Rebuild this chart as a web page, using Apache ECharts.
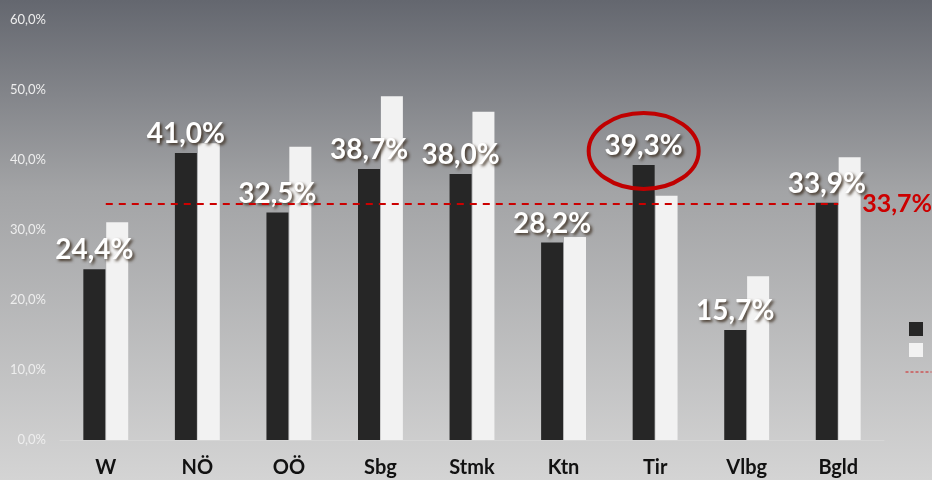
<!DOCTYPE html>
<html>
<head>
<meta charset="utf-8">
<script src="https://cdn.jsdelivr.net/npm/echarts@6/dist/echarts.min.js"></script>
<style>
  html, body { margin: 0; padding: 0; }
  #chart { width: 932px; height: 480px; }
</style>
</head>
<body>
<div id="chart"></div>
<script>
// Bundesländer
const categories = ['W', 'NÖ', 'OÖ', 'Sbg', 'Stmk', 'Ktn', 'Tir', 'Vlbg', 'Bgld']
// dark bars (labelled)
const darkValues = [24.4, 41.0, 32.5, 38.7, 38.0, 28.2, 39.3, 15.7, 33.9]
// white bars
const lightValues = [31.1, 42.4, 41.9, 49.1, 46.9, 29.0, 34.9, 23.4, 40.4]
// Österreich-Schnitt
const averageValue = 33.7
const averageLine = categories.map(() => averageValue)
const highlightIndex = 6 // Tir

const fmt = v => v.toFixed(1).replace('.', ',') + '%'

const chart = echarts.init(document.getElementById('chart'))

chart.setOption({
  animation: false,
  backgroundColor: {
    type: 'linear', x: 0, y: 0, x2: 0, y2: 1,
    colorStops: [
      { offset: 0, color: '#64676f' },
      { offset: 0.4, color: '#a3a4a6' },
      { offset: 1, color: '#d4d4d4' }
    ]
  },
  grid: { left: 60, right: 48, top: 20, bottom: 40 },
  // legend texts are cut off at the right edge in the original
  legend: [
    {
      orient: 'vertical',
      left: 904,
      top: 317,
      itemWidth: 14,
      itemHeight: 14,
      itemGap: 7,
      formatter: () => ' ',
      textStyle: { color: 'rgba(0,0,0,0)', fontSize: 10 },
      data: [
        { name: 'dunkel', icon: 'rect' },
        { name: 'hell', icon: 'rect' }
      ]
    },
    {
      left: 900,
      top: 362,
      itemWidth: 26,
      itemHeight: 10,
      formatter: () => ' ',
      textStyle: { color: 'rgba(0,0,0,0)', fontSize: 10 },
      data: [
        {
          name: 'Schnitt',
          itemStyle: { opacity: 0 },
          lineStyle: { width: 1, type: [3, 2], color: '#d02020' }
        }
      ]
    }
  ],
  xAxis: {
    type: 'category',
    data: categories,
    axisTick: { show: false },
    axisLine: { lineStyle: { color: '#d6d6d6', width: 1 } },
    axisLabel: {
      margin: 18,
      color: '#111',
      fontFamily: 'Lato',
      fontWeight: 'bold',
      fontSize: 20
    }
  },
  yAxis: {
    type: 'value',
    min: 0,
    max: 60,
    interval: 10,
    splitLine: { show: false },
    axisLine: { show: false },
    axisTick: { show: false },
    axisLabel: {
      margin: 14,
      color: '#eeeeee',
      fontFamily: 'Lato',
      fontSize: 13,
      formatter: v => v.toFixed(1).replace('.', ',') + '%'
    }
  },
  series: [
    {
      name: 'dunkel',
      type: 'bar',
      data: darkValues,
      barWidth: 22,
      barGap: '4%',
      itemStyle: { color: '#262626' },
      label: {
        show: true,
        position: 'top',
        distance: 5,
        formatter: p => fmt(p.value),
        color: '#ffffff',
        fontFamily: 'Lato',
        fontWeight: 'bold',
        fontSize: 28,
        textShadowColor: 'rgba(50,35,20,0.85)',
        textShadowBlur: 3,
        textShadowOffsetX: 2,
        textShadowOffsetY: 2
      },
      z: 3
    },
    {
      name: 'hell',
      type: 'bar',
      data: lightValues,
      barWidth: 22,
      itemStyle: { color: '#f2f2f2' },
      z: 2
    },
    {
      name: 'Schnitt',
      type: 'line',
      data: averageLine,
      symbol: 'none',
      lineStyle: { color: '#cc0000', width: 2, type: [7, 6] },
      itemStyle: { color: '#cc0000' },
      endLabel: {
        show: true,
        formatter: () => fmt(averageValue),
        color: '#cc0000',
        fontFamily: 'Lato',
        fontWeight: 'bold',
        fontSize: 25,
        distance: 24
      },
      z: 4
    }
  ]
})

// red ring round the highlighted label
const layout = chart.getModel().getSeriesByIndex(0).getData().getItemLayout(highlightIndex)
const cx = layout.x + layout.width / 2
const topY = Math.min(layout.y, layout.y + layout.height)
chart.setOption({
  graphic: [{
    type: 'ellipse',
    shape: { cx: cx, cy: topY - 14, rx: 55, ry: 38 },
    style: { fill: 'none', stroke: '#c00000', lineWidth: 4 },
    z: 100
  }]
})
</script>
</body>
</html>
